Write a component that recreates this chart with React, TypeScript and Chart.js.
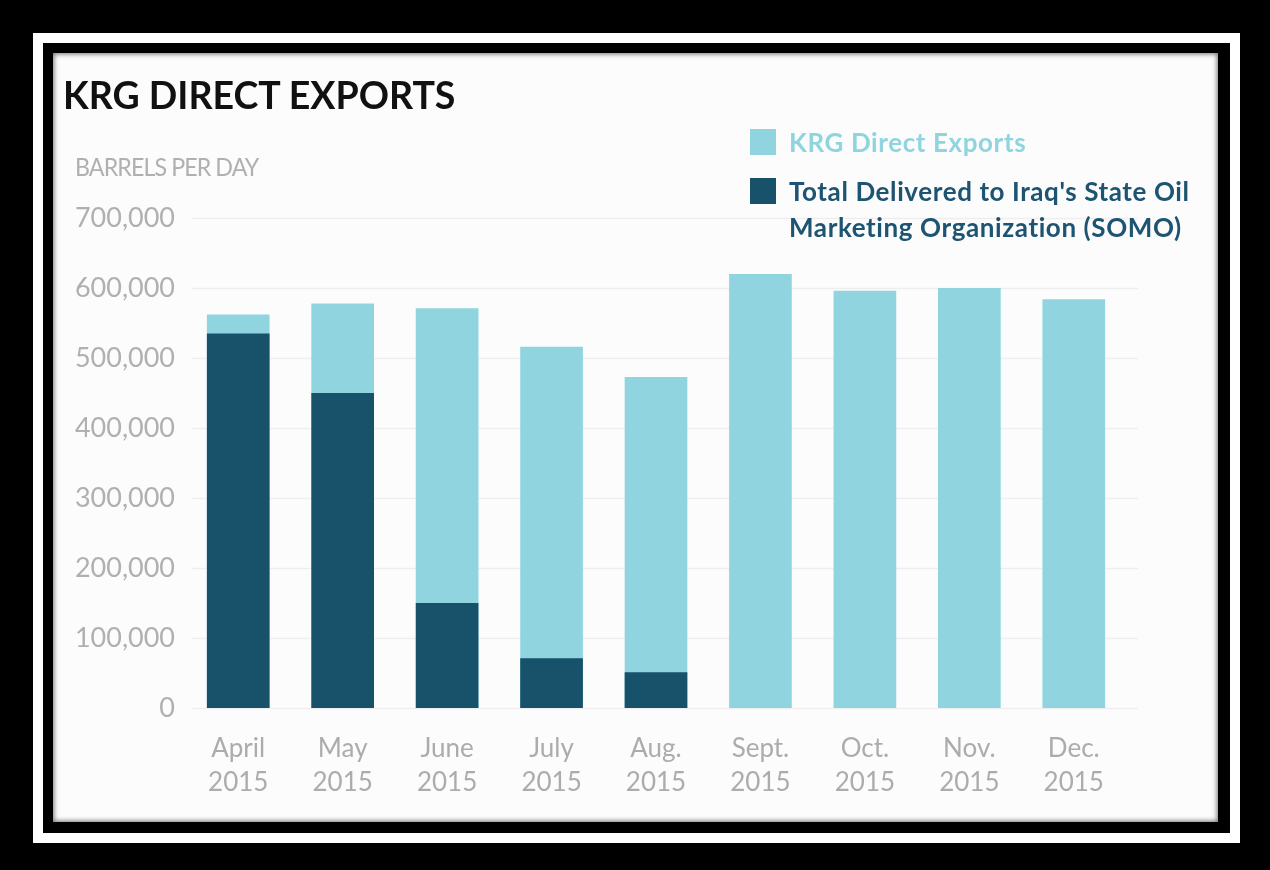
import React, { useEffect, useRef } from "react";
import { Chart, registerables } from "chart.js";

Chart.register(...registerables);

// Month labels, two lines each
const months: string[][] = [
  ["April", "2015"],
  ["May", "2015"],
  ["June", "2015"],
  ["July", "2015"],
  ["Aug.", "2015"],
  ["Sept.", "2015"],
  ["Oct.", "2015"],
  ["Nov.", "2015"],
  ["Dec.", "2015"],
];

// Barrels per day exported directly by the KRG (full bar height)
const krgDirectExports: number[] = [562000, 578000, 571000, 516000, 473000, 620000, 596000, 600000, 584000];

// Portion delivered to SOMO (dark overlay)
const somoDelivered: (number | null)[] = [535000, 450000, 150000, 71000, 51000, null, null, null, null];

const yTicks: number[] = [0, 100000, 200000, 300000, 400000, 500000, 600000, 700000];

const LIGHT = "#8fd4df";
const DARK = "#17516a";
const FONT = "Lato, 'Open Sans', sans-serif";

// Faint horizontal grid lines that run a little past the last bar
const gridPlugin = {
  id: "softGrid",
  beforeDatasetsDraw(chart: any) {
    const { ctx, chartArea, scales } = chart;
    const y = scales.y;
    ctx.save();
    ctx.strokeStyle = "#eeeeee";
    ctx.lineWidth = 1.5;
    for (const v of yTicks) {
      const py = Math.round(y.getPixelForValue(v)) + 0.5;
      ctx.beginPath();
      ctx.moveTo(chartArea.left + 6, py);
      ctx.lineTo(chartArea.right + 12, py);
      ctx.stroke();
    }
    ctx.restore();
  },
};

function ExportsChart() {
  const ref = useRef<HTMLCanvasElement | null>(null);

  useEffect(() => {
    if (!ref.current) return;
    const chart = new Chart(ref.current, {
      type: "bar",
      data: {
        labels: months,
        datasets: [
          {
            label: "Total Delivered to Iraq's State Oil Marketing Organization (SOMO)",
            data: somoDelivered,
            backgroundColor: DARK,
            grouped: false,
            order: 1,
            barPercentage: 0.6,
            categoryPercentage: 1,
          },
          {
            label: "KRG Direct Exports",
            data: krgDirectExports,
            backgroundColor: LIGHT,
            grouped: false,
            order: 2,
            barPercentage: 0.6,
            categoryPercentage: 1,
          },
        ],
      },
      options: {
        animation: false,
        responsive: false,
        maintainAspectRatio: false,
        layout: { padding: { left: 0, right: 92, top: 165, bottom: 0 } },
        plugins: {
          legend: { display: false },
          tooltip: { enabled: false },
        },
        scales: {
          x: {
            grid: { display: false, drawTicks: false },
            border: { display: false },
            ticks: {
              color: "#acacac",
              padding: 24,
              font: { family: FONT, size: 26, lineHeight: 1.3 },
              maxRotation: 0,
              autoSkip: false,
            },
            afterFit(scale: any) {
              scale.height = 114;
            },
          },
          y: {
            min: 0,
            max: 700000,
            afterBuildTicks(scale: any) {
              scale.ticks = yTicks.map((v) => ({ value: v }));
            },
            grid: { display: false, drawTicks: false },
            border: { display: false },
            ticks: {
              color: "#b0b0b0",
              padding: 11,
              font: { family: FONT, size: 27 },
              callback: (v: any) => Number(v).toLocaleString("en-US"),
            },
            afterFit(scale: any) {
              scale.width = 133;
            },
          },
        },
      },
      plugins: [gridPlugin],
    });
    return () => chart.destroy();
  }, []);

  return <canvas ref={ref} width={1165} height={769} style={{ position: "absolute", left: 0, top: 0 }} />;
}

export default function App() {
  return (
    <div style={{ position: "fixed", left: 0, top: 0, width: 1270, height: 870, background: "#000", overflow: "hidden" }}>
      <div style={{ position: "absolute", left: 33, top: 33, width: 1207, height: 810, background: "#fff" }} />
      <div style={{ position: "absolute", left: 43, top: 43, width: 1187, height: 790, background: "#000" }} />
      <div
        style={{
          position: "absolute",
          left: 53,
          top: 53,
          width: 1165,
          height: 769,
          background: "#fcfcfc",
          boxShadow: "inset 0 0 5px 1px rgba(0,0,0,0.55)",
          fontFamily: FONT,
        }}
      >
        <ExportsChart />
        <div
          style={{
            position: "absolute",
            left: 10,
            top: 23,
            fontSize: 37.5,
            fontWeight: 700,
            color: "#111",
            lineHeight: 1,
            whiteSpace: "nowrap",
          }}
        >
          KRG DIRECT EXPORTS
        </div>
        <div
          style={{
            position: "absolute",
            left: 22,
            top: 101,
            fontSize: 25,
            color: "#b0b0b0",
            lineHeight: 1,
            letterSpacing: -1,
            whiteSpace: "nowrap",
            transform: "scaleX(0.93)",
            transformOrigin: "left center",
          }}
        >
          BARRELS PER DAY
        </div>
        <div style={{ position: "absolute", left: 697, top: 71, fontWeight: 700, fontSize: 26, lineHeight: "36px", letterSpacing: 0.6 }}>
          <div style={{ display: "flex", alignItems: "center", color: LIGHT, marginBottom: 13 }}>
            <span style={{ width: 26, height: 26, background: LIGHT, display: "inline-block", marginRight: 13, flex: "none" }} />
            KRG Direct Exports
          </div>
          <div style={{ display: "flex", alignItems: "flex-start", color: "#1c5472" }}>
            <span style={{ width: 26, height: 26, background: DARK, display: "inline-block", marginRight: 13, marginTop: 5, flex: "none" }} />
            <span style={{ whiteSpace: "nowrap" }}>
              Total Delivered to Iraq's State Oil
              <br />
              Marketing Organization (SOMO)
            </span>
          </div>
        </div>
      </div>
    </div>
  );
}
